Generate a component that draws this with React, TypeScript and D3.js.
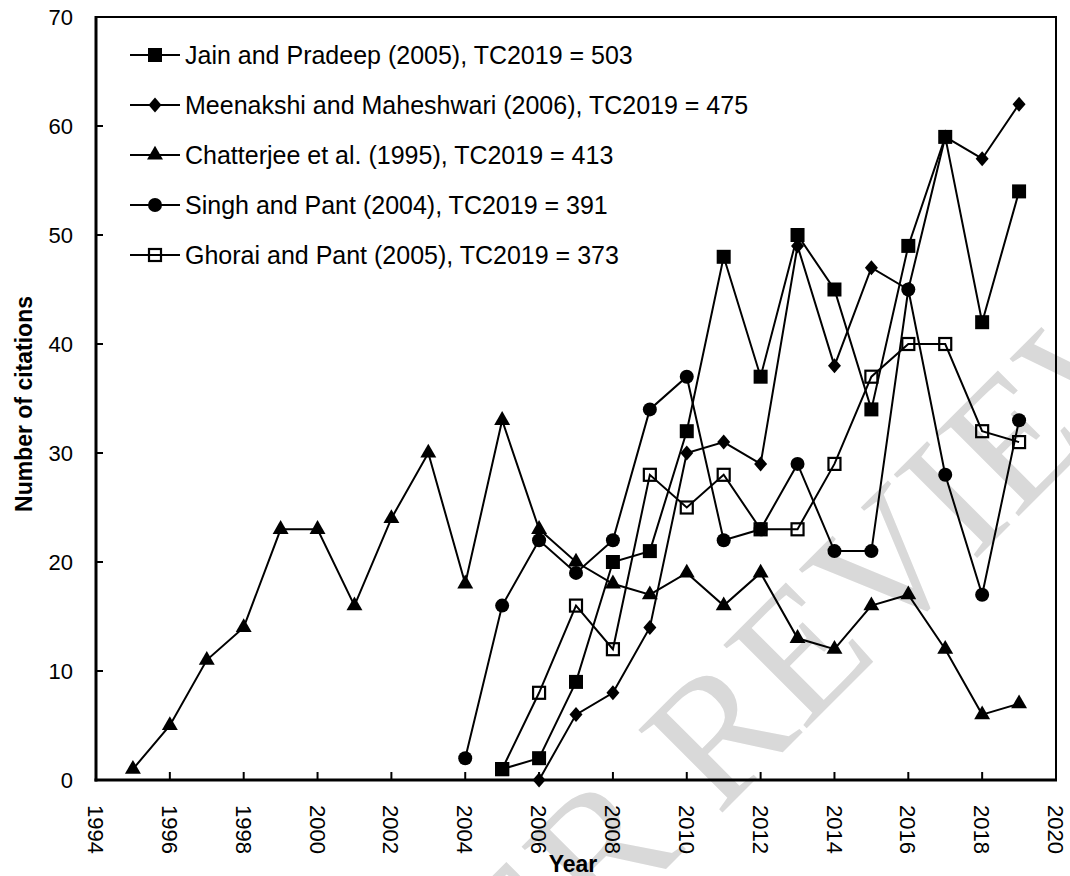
import React from "react";
import * as d3 from "d3";

// citations per year
const jainYears = [2005, 2006, 2007, 2008, 2009, 2010, 2011, 2012, 2013, 2014, 2015, 2016, 2017, 2018, 2019];
const jainValues = [1, 2, 9, 20, 21, 32, 48, 37, 50, 45, 34, 49, 59, 42, 54];

const meenakshiYears = [2006, 2007, 2008, 2009, 2010, 2011, 2012, 2013, 2014, 2015, 2016, 2017, 2018, 2019];
const meenakshiValues = [0, 6, 8, 14, 30, 31, 29, 49, 38, 47, 45, 59, 57, 62];

const chatterjeeYears = [
  1995, 1996, 1997, 1998, 1999, 2000, 2001, 2002, 2003, 2004, 2005, 2006, 2007,
  2008, 2009, 2010, 2011, 2012, 2013, 2014, 2015, 2016, 2017, 2018, 2019,
];
const chatterjeeValues = [1, 5, 11, 14, 23, 23, 16, 24, 30, 18, 33, 23, 20, 18, 17, 19, 16, 19, 13, 12, 16, 17, 12, 6, 7];

const singhYears = [2004, 2005, 2006, 2007, 2008, 2009, 2010, 2011, 2012, 2013, 2014, 2015, 2016, 2017, 2018, 2019];
const singhValues = [2, 16, 22, 19, 22, 34, 37, 22, 23, 29, 21, 21, 45, 28, 17, 33];

const ghoraiYears = [2005, 2006, 2007, 2008, 2009, 2010, 2011, 2012, 2013, 2014, 2015, 2016, 2017, 2018, 2019];
const ghoraiValues = [1, 8, 16, 12, 28, 25, 28, 23, 23, 29, 37, 40, 40, 32, 31];

const seriesLabels = [
  "Jain and Pradeep (2005), TC2019 = 503",
  "Meenakshi and Maheshwari (2006), TC2019 = 475",
  "Chatterjee et al. (1995), TC2019 = 413",
  "Singh and Pant (2004), TC2019 = 391",
  "Ghorai and Pant (2005), TC2019 = 373",
];
const markerKinds = ["square", "diamond", "triangle", "circle", "openSquare"];

const xTicks = [1994, 1996, 1998, 2000, 2002, 2004, 2006, 2008, 2010, 2012, 2014, 2016, 2018, 2020];
const yTicks = [0, 10, 20, 30, 40, 50, 60, 70];

const W = 1070;
const H = 876;
const FONT = "'Liberation Sans', Arial, sans-serif";

const x = d3.scaleLinear().domain([1994, 2020]).range([96, 1056]);
const y = d3.scaleLinear().domain([0, 70]).range([780, 17]);

function Marker({ kind, cx, cy }) {
  if (kind === "circle") return <circle cx={cx} cy={cy} r={7} fill="#000" />;
  if (kind === "square") return <rect x={cx - 7} y={cy - 7} width={14} height={14} fill="#000" />;
  if (kind === "openSquare")
    return <rect x={cx - 6} y={cy - 6} width={12} height={12} fill="none" stroke="#000" strokeWidth={2.2} />;
  if (kind === "diamond") {
    const p = d3.path();
    p.moveTo(cx, cy - 7.5);
    p.lineTo(cx + 6.5, cy);
    p.lineTo(cx, cy + 7.5);
    p.lineTo(cx - 6.5, cy);
    p.closePath();
    return <path d={p.toString()} fill="#000" />;
  }
  const t = d3.symbol(d3.symbolTriangle, 110)();
  return <path d={t} transform={`translate(${cx},${cy})`} fill="#000" />;
}

export default function App() {
  const series = [
    { years: jainYears, values: jainValues },
    { years: meenakshiYears, values: meenakshiValues },
    { years: chatterjeeYears, values: chatterjeeValues },
    { years: singhYears, values: singhValues },
    { years: ghoraiYears, values: ghoraiValues },
  ];
  const line = d3
    .line<[number, number]>()
    .x((d) => x(d[0]))
    .y((d) => y(d[1]));

  return (
    <svg
      width={W}
      height={H}
      style={{ position: "absolute", left: 0, top: 0, background: "#fff" }}
      fontFamily={FONT}
    >
      <rect width={W} height={H} fill="#fff" />
      {/* watermark */}
      <text
        transform="translate(375,1160) rotate(-45)"
        fontFamily="'Liberation Serif', 'DejaVu Serif', serif"
        fontSize={180}
        fill="#d9d9d9"
      >
        PEER REVIEW
      </text>

      {/* frame */}
      <rect x={96} y={17} width={960} height={763} fill="none" stroke="#000" strokeWidth={2} />
      <line x1={96} x2={96} y1={16} y2={781.5} stroke="#000" strokeWidth={3} />
      <line x1={94.5} x2={1057} y1={780} y2={780} stroke="#000" strokeWidth={3} />

      {yTicks.map((t) => (
        <g key={t}>
          {t > 0 && t < 70 && <line x1={96} x2={103} y1={y(t)} y2={y(t)} stroke="#000" strokeWidth={2} />}
          <text x={73} y={y(t)} dy="0.36em" textAnchor="end" fontSize={22}>
            {t}
          </text>
        </g>
      ))}
      {xTicks.map((t) => (
        <g key={t}>
          {t > 1994 && t < 2020 && <line x1={x(t)} x2={x(t)} y1={780} y2={772} stroke="#000" strokeWidth={2} />}
          <text
            transform={`translate(${x(t)},805) rotate(90)`}
            dy="0.36em"
            fontSize={22}
          >
            {t}
          </text>
        </g>
      ))}

      <text transform="translate(32,404) rotate(-90)" textAnchor="middle" fontSize={23} fontWeight="bold">
        Number of citations
      </text>
      <text x={573} y={872} textAnchor="middle" fontSize={23} fontWeight="bold">
        Year
      </text>

      {series.map((s, i) => {
        const pts = s.years.map((yr, j) => [yr, s.values[j]] as [number, number]);
        return (
          <g key={i}>
            <path d={line(pts) || ""} fill="none" stroke="#000" strokeWidth={2} />
            {pts.map((p, j) => (
              <Marker key={j} kind={markerKinds[i]} cx={x(p[0])} cy={y(p[1])} />
            ))}
          </g>
        );
      })}

      {seriesLabels.map((label, i) => {
        const cy = 55 + i * 50;
        return (
          <g key={label}>
            <line x1={130} x2={180} y1={cy} y2={cy} stroke="#000" strokeWidth={2} />
            <Marker kind={markerKinds[i]} cx={155} cy={cy} />
            <text x={185} y={cy} dy="0.36em" fontSize={25}>
              {label}
            </text>
          </g>
        );
      })}
    </svg>
  );
}
